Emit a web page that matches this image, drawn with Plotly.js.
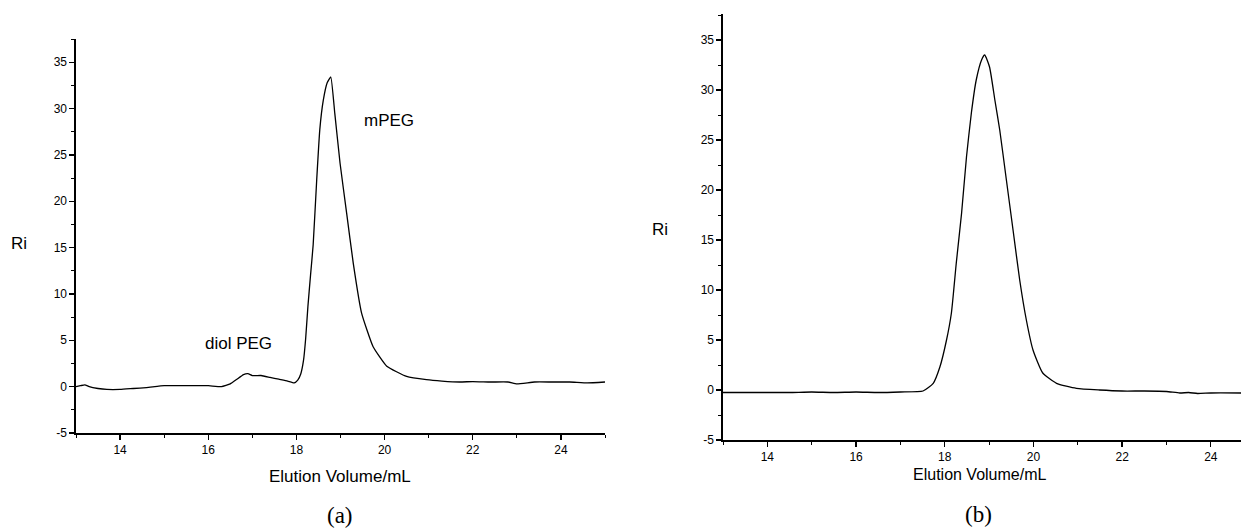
<!DOCTYPE html>
<html>
<head>
<meta charset="utf-8">
<script src="https://cdn.plot.ly/plotly-3.0.1.min.js"></script>
<style>html,body{margin:0;padding:0;background:#fff;}#chart{width:1241px;height:530px;}</style>
</head>
<body>
<div id="chart"></div>
<script>
// Panel (a): mPEG with diol PEG impurity
const xA = [13.0,13.1,13.2,13.3,13.5,13.7,14.0,14.3,14.6,15.0,15.3,15.6,16.0,16.3,16.5,16.65,16.8,16.9,17.0,17.2,17.4,17.6,17.8,17.95,18.03,18.1,18.16,18.21,18.26,18.32,18.38,18.46,18.53,18.61,18.7,18.78,18.87,18.99,19.14,19.29,19.48,19.74,20.05,20.5,20.95,21.3,21.7,22.0,22.4,22.8,23.0,23.4,23.8,24.2,24.6,25.0];
const yA = [0.0,0.1,0.2,0.0,-0.2,-0.3,-0.3,-0.2,-0.1,0.1,0.1,0.1,0.1,0.0,0.3,0.8,1.3,1.4,1.2,1.2,1.0,0.8,0.6,0.4,0.7,1.4,2.8,5.2,8.6,12.0,15.3,22.3,27.7,30.9,32.8,33.4,29.5,24.1,18.7,13.3,7.9,4.3,2.2,1.1,0.75,0.6,0.5,0.55,0.5,0.5,0.3,0.5,0.5,0.5,0.4,0.5];
// Panel (b): purified mPEG
const xB = [13.0,13.5,14.0,14.5,15.0,15.5,16.0,16.5,17.0,17.51,17.74,17.89,18.04,18.15,18.26,18.38,18.49,18.60,18.71,18.83,18.90,19.01,19.13,19.24,19.39,19.54,19.69,19.84,19.99,20.21,20.52,20.97,21.49,22.0,22.5,23.0,23.3,23.5,23.7,24.0,24.7];
const yB = [-0.25,-0.25,-0.25,-0.25,-0.2,-0.25,-0.2,-0.25,-0.2,-0.1,0.67,2.3,5.0,7.7,12.7,17.7,23.3,27.7,31.0,33.0,33.5,32.3,29.0,26.0,21.0,16.0,11.0,7.0,4.0,1.7,0.67,0.17,0.0,-0.1,-0.1,-0.15,-0.3,-0.25,-0.35,-0.3,-0.3];

const xTicks = [14,16,18,20,22,24];
const yTicks = [-5,0,5,10,15,20,25,30,35];

const W = 1241, H = 530;
const px = v => v / W;
const py = v => (H - v) / H;

const tickFont = {family: 'Liberation Sans, Arial, sans-serif', size: 12, color: '#000'};
const labelFont = {family: 'Liberation Sans, Arial, sans-serif', size: 17, color: '#000'};
const labelFontB = {family: 'Liberation Sans, Arial, sans-serif', size: 16, color: '#000'};
const serifFont = {family: 'Liberation Serif, Times New Roman, serif', size: 23, color: '#000'};

function xAxis(domain, range, anchor) {
  return {
    domain: domain, range: range, anchor: anchor,
    showgrid: false, zeroline: false, showline: true, linecolor: '#000', linewidth: 1.6,
    ticks: 'outside', ticklen: 5, tickwidth: 1.3, tickcolor: '#000',
    tickvals: xTicks, ticktext: xTicks.map(String), tickfont: tickFont,
    minor: {ticks: 'outside', ticklen: 3, tickwidth: 1, tickcolor: '#000', dtick: 1, tick0: 13, showgrid: false},
    fixedrange: true
  };
}
function yAxis(domain, range, anchor) {
  return {
    domain: domain, range: range, anchor: anchor,
    showgrid: false, zeroline: false, showline: true, linecolor: '#000', linewidth: 1.6,
    ticks: 'outside', ticklen: 5, tickwidth: 1.3, tickcolor: '#000',
    tickvals: yTicks, ticktext: yTicks.map(String), tickfont: tickFont,
    minor: {ticks: 'outside', ticklen: 3, tickwidth: 1, tickcolor: '#000', dtick: 2.5, tick0: 0, showgrid: false},
    fixedrange: true
  };
}

const data = [
  {x: xA, y: yA, xaxis: 'x', yaxis: 'y', type: 'scatter', mode: 'lines',
   line: {color: '#000', width: 1.3, shape: 'spline', smoothing: 0.4}, hoverinfo: 'skip'},
  {x: xB, y: yB, xaxis: 'x2', yaxis: 'y2', type: 'scatter', mode: 'lines',
   line: {color: '#000', width: 1.3, shape: 'spline', smoothing: 0.5}, hoverinfo: 'skip'}
];

function note(x, y, text, font) {
  return {xref: 'paper', yref: 'paper', x: px(x), y: py(y), xanchor: 'center', yanchor: 'middle',
          text: text, showarrow: false, font: font};
}

const layout = {
  width: W, height: H,
  margin: {l: 0, r: 0, t: 0, b: 0},
  paper_bgcolor: '#fff', plot_bgcolor: '#fff',
  showlegend: false,
  xaxis: xAxis([px(76), px(605)], [13, 25], 'y'),
  yaxis: yAxis([py(433), py(39)], [-5, 37.5], 'x'),
  xaxis2: xAxis([px(723), 1], [13, 24.68], 'y2'),
  yaxis2: yAxis([py(440), py(14)], [-5, 37.6], 'x2'),
  annotations: [
    note(19, 243, 'Ri', labelFont),
    note(340, 476, 'Elution Volume/mL', labelFont),
    note(340, 515, '(a)', serifFont),
    note(660, 229, 'Ri', labelFont),
    note(980, 474, 'Elution Volume/mL', labelFontB),
    note(978, 514, '(b)', serifFont),
    note(389, 121, 'mPEG', labelFont),
    note(238, 343, 'diol PEG', labelFont)
  ]
};

Plotly.newPlot('chart', data, layout, {staticPlot: true, displayModeBar: false});
</script>
</body>
</html>
